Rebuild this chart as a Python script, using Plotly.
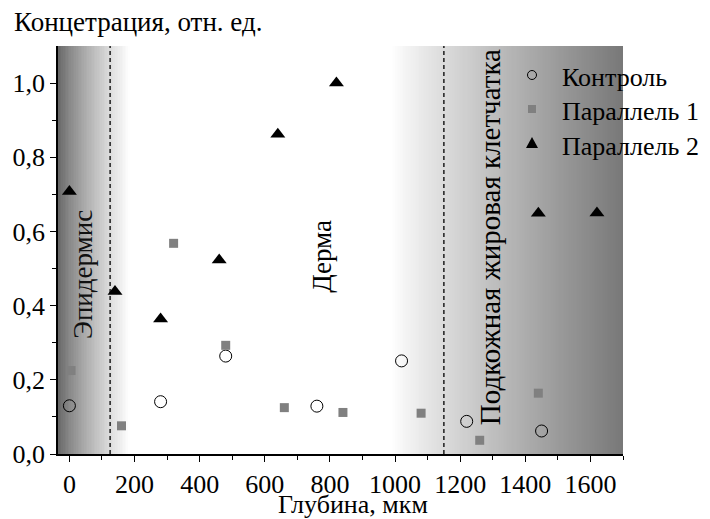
import plotly.graph_objects as go

# ---- data ----
ctrl_x = [0, 280, 480, 760, 1020, 1220, 1450]
ctrl_y = [0.13, 0.141, 0.264, 0.129, 0.251, 0.088, 0.062]

par1_x = [5, 160, 320, 480, 660, 840, 1080, 1260, 1440]
par1_y = [0.225, 0.076, 0.568, 0.293, 0.125, 0.112, 0.110, 0.037, 0.164]

par2_x = [0, 140, 280, 460, 640, 820, 1440, 1620]
par2_y = [0.708, 0.438, 0.364, 0.523, 0.862, 1.0, 0.649, 0.65]

series_names = ["Контроль", "Параллель 1", "Параллель 2"]
region_labels = ["Эпидермис", "Дерма", "Подкожная жировая клетчатка"]
boundaries = [125, 1150]

XMIN, XMAX = -35, 1700
YMIN, YMAX = 0, 1.1
FONT = "Liberation Serif"

# plot-area geometry in pixels (for paper-coordinate decorations)
L, R, T, B = 58, 623, 46, 454
def px(xp):
    return (xp - L) / (R - L)
def py(yp):
    return 1 - (yp - T) / (B - T)

fig = go.Figure()

# gradient background as a heatmap (gray level per column)
ncol = 347
edges = [XMIN + (XMAX - XMIN) * i / ncol for i in range(ncol + 1)]
levels = []
for i in range(ncol):
    xc = (edges[i] + edges[i + 1]) / 2
    if xc < 185:
        t = (xc - XMIN) / (185 - XMIN)
        v = 100 + 155 * t ** 0.8
    elif xc > 990:
        t = (xc - 990) / (XMAX - 990)
        v = 255 - 135 * t ** 0.9
    else:
        v = 255
    levels.append(min(255, v))

fig.add_trace(go.Heatmap(x=edges, y=[YMIN, YMAX], z=[levels], zmin=0, zmax=255,
                         colorscale=[[0, "black"], [1, "white"]], showscale=False,
                         hoverinfo="skip", showlegend=False))

fig.add_trace(go.Scatter(x=ctrl_x, y=ctrl_y, mode="markers", name=series_names[0],
                         marker=dict(symbol="circle-open", size=12, color="black",
                                     line=dict(width=1, color="black"))))
fig.add_trace(go.Scatter(x=par1_x, y=par1_y, mode="markers", name=series_names[1],
                         marker=dict(symbol="square", size=9, color="#808080")))
fig.add_trace(go.Scatter(x=par2_x, y=par2_y, mode="markers", name=series_names[2],
                         marker=dict(symbol="triangle-up", size=13, color="black")))

shapes = []
for bx in boundaries:
    shapes.append(dict(type="line", xref="x", yref="y", x0=bx, x1=bx, y0=YMIN, y1=YMAX,
                       line=dict(color="black", width=1.3, dash="4px,3px"), layer="above"))

# manual legend (symbols as shapes, labels as annotations)
lx, rows = 532, [75, 109, 143]
shapes.append(dict(type="circle", xref="paper", yref="paper",
                   x0=px(lx - 4.5), x1=px(lx + 4.5), y0=py(rows[0] + 4.5), y1=py(rows[0] - 4.5),
                   line=dict(color="black", width=1), fillcolor="rgba(0,0,0,0)"))
shapes.append(dict(type="rect", xref="paper", yref="paper",
                   x0=px(lx - 4), x1=px(lx + 4), y0=py(rows[1] + 4), y1=py(rows[1] - 4),
                   line=dict(width=0), fillcolor="#808080"))
tri = (f"M {px(lx - 6)} {py(rows[2] + 5)} L {px(lx + 6)} {py(rows[2] + 5)} "
       f"L {px(lx)} {py(rows[2] - 6)} Z")
shapes.append(dict(type="path", xref="paper", yref="paper", path=tri,
                   line=dict(width=0), fillcolor="black"))

annotations = []
for name, ry in zip(series_names, [78, 112, 146]):
    annotations.append(dict(text=name, xref="paper", yref="paper", x=px(560), y=py(ry),
                            xanchor="left", yanchor="middle", showarrow=False,
                            font=dict(family=FONT, size=26, color="black")))

annotations += [
    dict(text=region_labels[0], x=42, y=0.483, xref="x", yref="y", textangle=-90,
         showarrow=False, font=dict(family=FONT, size=27, color="#111")),
    dict(text=region_labels[1], x=777, y=0.533, xref="x", yref="y", textangle=-90,
         showarrow=False, font=dict(family=FONT, size=27, color="black")),
    dict(text=region_labels[2], x=1290, y=0.586, xref="x", yref="y", textangle=-90,
         showarrow=False, font=dict(family=FONT, size=29, color="black")),
    dict(text="Концетрация, отн. ед.", xref="paper", yref="paper",
         x=px(12), y=py(22), showarrow=False, xanchor="left", yanchor="middle",
         font=dict(family=FONT, size=27, color="black")),
    dict(text="Глубина, мкм", xref="paper", yref="paper",
         x=px(353), y=py(504), showarrow=False, xanchor="center", yanchor="middle",
         font=dict(family=FONT, size=26, color="black")),
]

fig.update_layout(
    width=710, height=519,
    margin=dict(l=L, r=710 - R, t=T, b=519 - B),
    paper_bgcolor="white", plot_bgcolor="white",
    separators=",.",
    font=dict(family=FONT, size=26, color="black"),
    showlegend=False,
    shapes=shapes,
    annotations=annotations,
    xaxis=dict(range=[XMIN, XMAX], tickvals=[0, 200, 400, 600, 800, 1000, 1200, 1400, 1600],
               ticks="outside", ticklen=6, tickwidth=1.3, tickcolor="black",
               showline=True, linecolor="black", linewidth=1.5, showgrid=False, zeroline=False,
               minor=dict(tickvals=[100, 300, 500, 700, 900, 1100, 1300, 1500, 1700],
                          ticks="outside", ticklen=4, tickcolor="black", tickwidth=1.2),
               tickfont=dict(family=FONT, size=26)),
    yaxis=dict(range=[YMIN, YMAX], tickvals=[0, 0.2, 0.4, 0.6, 0.8, 1.0], tickformat=".1f",
               ticks="outside", ticklen=6, tickwidth=1.3, tickcolor="black",
               showline=True, linecolor="black", linewidth=1.5, showgrid=False, zeroline=False,
               minor=dict(tickvals=[0.1, 0.3, 0.5, 0.7, 0.9], ticks="outside", ticklen=4,
                          tickcolor="black", tickwidth=1.2),
               tickfont=dict(family=FONT, size=26)),
)

fig.write_html("out.html")
